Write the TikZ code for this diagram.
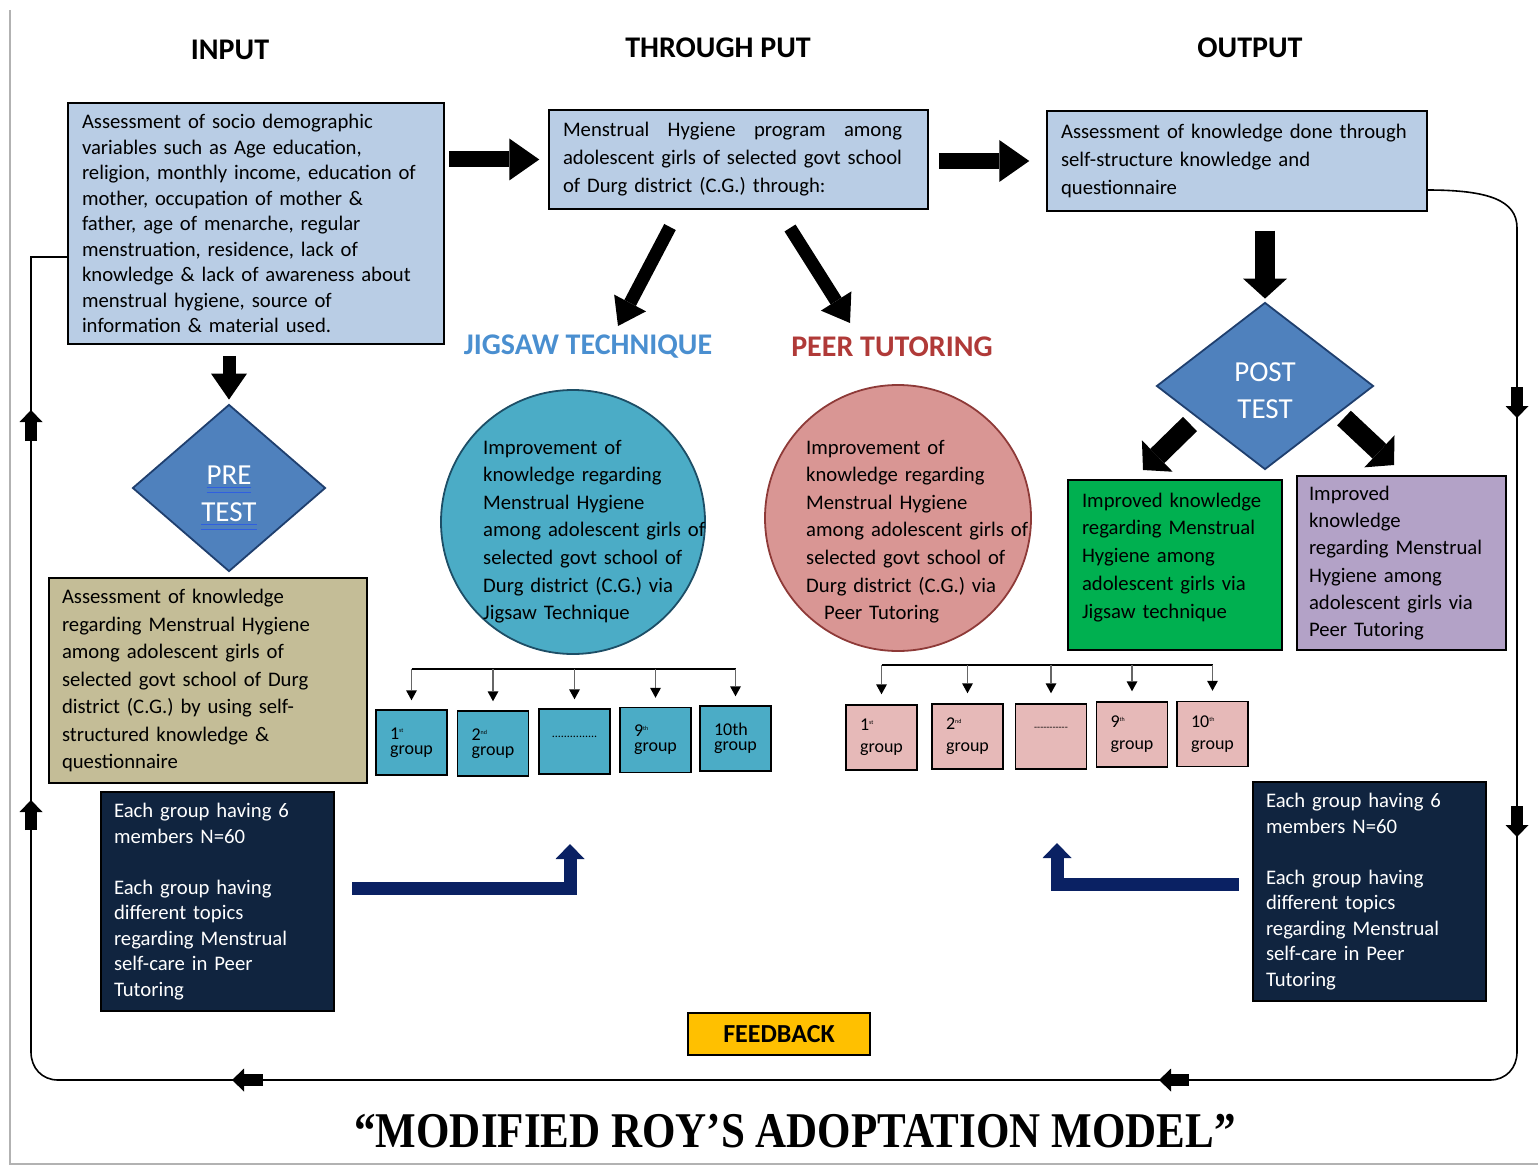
\documentclass[tikz,border=0pt]{standalone}
\usepackage{fontspec}
\setmainfont{Carlito}
\newfontfamily\titlefont{Liberation Serif}
\usepackage{graphicx}
\usetikzlibrary{shapes.geometric,arrows.meta}

\definecolor{boxblue}{HTML}{B9CDE5}
\definecolor{diafill}{HTML}{4F81BD}
\definecolor{diadraw}{HTML}{1F3F6E}
\definecolor{jigteal}{HTML}{4BACC6}
\definecolor{jigdraw}{HTML}{1D4E66}
\definecolor{peerpink}{HTML}{D99694}
\definecolor{peerdraw}{HTML}{8E3A38}
\definecolor{grppink}{HTML}{E6B9B8}
\definecolor{tanfill}{HTML}{C4BD97}
\definecolor{greenfill}{HTML}{00B050}
\definecolor{lilac}{HTML}{B3A2C7}
\definecolor{navyfill}{HTML}{10243F}
\definecolor{navyarr}{HTML}{0A2163}
\definecolor{fbyellow}{HTML}{FFC000}
\definecolor{jigtext}{HTML}{4A8FD0}
\definecolor{peertext}{HTML}{B03A38}
\definecolor{ulblue}{HTML}{2F5FE0}

\newlength{\ulwd}
\newcommand{\dblul}[1]{\settowidth{\ulwd}{#1}\leavevmode\rlap{\color{ulblue}\rule[-4pt]{\ulwd}{1.3pt}}\rlap{\color{ulblue}\rule[-9pt]{\ulwd}{1.3pt}}#1}
\newcommand{\sups}[1]{\textsuperscript{\fontsize{6}{6}\selectfont #1}}

\begin{document}
\begin{tikzpicture}[x=1pt,y=1pt,yscale=-1,
    txtbox/.style={draw=black, line width=1.5, align=left, inner xsep=14, inner ysep=0, font=\fontsize{20.7}{25.5}\selectfont},
    colhead/.style={font=\fontsize{30}{36}\selectfont\bfseries},
    testdia/.style={diamond, draw=diadraw, line width=1.8, fill=diafill, text=white, align=center, inner sep=0, font=\fontsize{29}{37}\selectfont},
    circtxt/.style={align=left, inner sep=0, text width=232, font=\fontsize{20.7}{27.6}\selectfont},
    grpbox/.style={draw=black, line width=1.5, minimum width=71, minimum height=65, inner sep=0, align=left, font=\fontsize{18}{15}\selectfont},
    navybx/.style={txtbox, fill=navyfill, text=white, text width=207, inner xsep=13, minimum height=219},
    bigarrow/.style={line width=16, -{Triangle[length=30pt,width=42pt,line width=0pt]}},
    midarrow/.style={line width=13, -{Triangle[length=26pt,width=36pt,line width=0pt]}},
    postarrow/.style={line width=20, -{Triangle[length=20pt,width=44pt,line width=0pt]}},
    smallblk/.style={line width=12, -{Triangle[length=12pt,width=23pt,line width=0pt]}},
    navyarrow/.style={draw=navyarr, line width=13, -{Triangle[length=15pt,width=29pt,line width=0pt]}},
    grparrow/.style={draw=gray!80!black, line width=1.4, -{Triangle[length=10pt,width=11pt,line width=0pt,black]}},
    barline/.style={line width=1.5, black},
    loopline/.style={line width=1.6, black}
]
\useasboundingbox (0,0) rectangle (1538,1166);

%Frame
\draw[gray!60, line width=1.5] (10,10) -- (10,1164) -- (1538,1164);

% Text Node
\node[colhead] (hin) at (230,50) {INPUT};
% Text Node
\node[colhead] (hthru) at (718,48) {THROUGH PUT};
% Text Node
\node[colhead] (hout) at (1250,48) {OUTPUT};

%Shape: Rectangle
\node[txtbox, fill=boxblue, text width=348, minimum height=241] (inbox) at (256,223.5) {Assessment of socio demographic\\ variables such as Age education,\\ religion, monthly income, education of\\ mother, occupation of mother \&\\ father, age of menarche, regular\\ menstruation, residence, lack of\\ knowledge \& lack of awareness about\\ menstrual hygiene, source of\\ information \& material used.};
%Shape: Rectangle
\node[txtbox, fill=boxblue, text width=351, minimum height=99, font=\fontsize{20.7}{28}\selectfont] (tpbox) at (738.5,159.5) {\makebox[339pt][l]{Menstrual\hfill Hygiene\hfill program\hfill among}\\ adolescent girls of selected govt school\\ of Durg district (C.G.) through:};
%Shape: Rectangle
\node[txtbox, fill=boxblue, text width=352, minimum height=100, font=\fontsize{20.7}{28}\selectfont] (outbox) at (1237,161) {Assessment of knowledge done through\\ self-structure knowledge and\\ questionnaire};

%Block Arrows
\draw[bigarrow, shorten <=4, shorten >=9] (inbox.east |- tpbox.west) -- (tpbox.west);
\draw[bigarrow, shorten <=10, shorten >=17] (tpbox.east |- outbox.west) -- (outbox.west);

%Shape: Diamond
\node[testdia, minimum width=193, minimum height=167] (pre) at (229,488) {\rule{0pt}{38pt}\dblul{PRE}\\\dblul{TEST}};
%Shape: Diamond
\node[testdia, minimum width=217, minimum height=167] (post) at (1265,386) {\rule{0pt}{29pt}POST\\TEST};

\draw[midarrow, shorten <=11, shorten >=4] (inbox.south -| pre.north) -- (pre.north);
\draw[postarrow, shorten <=19, shorten >=3] (outbox.south -| post.north) -- (post.north);

% Text Node
\node[colhead, text=jigtext] (jiglbl) at (588,347) {JIGSAW TECHNIQUE};
% Text Node
\node[colhead, text=peertext] (peerlbl) at (892,347) {PEER TUTORING};

%Straight Lines
\coordinate (tpL) at (670,227);
\coordinate (jigtip) at (618,326);
\draw[midarrow] (tpL) -- (jigtip);
\coordinate (tpR) at (790,228);
\coordinate (peertip) at (850,323);
\draw[midarrow] (tpR) -- (peertip);

%Shape: Circle
\node[circle, draw=jigdraw, line width=1.8, fill=jigteal, minimum size=264, inner sep=0] (jig) at (573,522) {};
% Text Node
\node[circtxt, anchor=base west] (jigtxt) at (483,454) {Improvement of\\ knowledge regarding\\ Menstrual Hygiene\\ among adolescent girls of\\ selected govt school of\\ Durg district (C.G.) via\\ Jigsaw Technique};
%Shape: Circle
\node[circle, draw=peerdraw, line width=1.8, fill=peerpink, minimum size=266, inner sep=0] (peer) at (898,518) {};
% Text Node
\node[circtxt, anchor=base west] (peertxt) at (806,454) {Improvement of\\ knowledge regarding\\ Menstrual Hygiene\\ among adolescent girls of\\ selected govt school of\\ Durg district (C.G.) via\\ \hspace*{18pt}Peer Tutoring};

%Shape: Rectangle
\node[txtbox, fill=tanfill, text width=292, inner xsep=13, minimum height=205, font=\fontsize{20.7}{27.5}\selectfont] (tanbox) at (208,680.5) {Assessment of knowledge\\ regarding Menstrual Hygiene\\ among adolescent girls of\\ selected govt school of Durg\\ district (C.G.) by using self-\\ structured knowledge \&\\ questionnaire};

%Shape: Rectangle
\node[txtbox, fill=greenfill, text width=186, minimum height=170, font=\fontsize{20.7}{27.75}\selectfont] (grnbox) at (1175,565) {Improved knowledge\\ regarding Menstrual\\ Hygiene among\\ adolescent girls via\\ Jigsaw technique\rule[-19pt]{0pt}{0pt}};
%Shape: Rectangle
\node[txtbox, fill=lilac, text width=185, inner xsep=12, minimum height=174, font=\fontsize{20.7}{27.2}\selectfont] (purbox) at (1401.5,563) {Improved\\ knowledge\\ regarding Menstrual\\ Hygiene among\\ adolescent girls via\\ Peer Tutoring};

\coordinate (postL) at (1190,424);
\coordinate (grntip) at (1143,470);
\draw[postarrow] (postL) -- (grntip);
\coordinate (postR) at (1344,418);
\coordinate (purtip) at (1394,465);
\draw[postarrow] (postR) -- (purtip);

%Shape: Group boxes (jigsaw)
\node[grpbox, fill=jigteal] (tg1) at (411.5,742.5) {1\sups{st}\\group};
\node[grpbox, fill=jigteal] (tg2) at (493,743.5) {2\sups{nd}\\group};
\node[grpbox, fill=jigteal] (tg3) at (574.5,741.5) {\raisebox{10pt}{\fontsize{12}{12}\selectfont ...............}};
\node[grpbox, fill=jigteal] (tg4) at (655.5,740) {9\sups{th}\\group};
\node[grpbox, fill=jigteal] (tg5) at (735.5,738.5) {10th\\group};

\coordinate (tbar) at (0,669);
\draw[barline] (tg1.north |- tbar) -- (tg5.north |- tbar);
\draw[grparrow, shorten >=9] (tg1.north |- tbar) -- (tg1.north);
\draw[grparrow, shorten >=9] (tg2.north |- tbar) -- (tg2.north);
\draw[grparrow, shorten >=9] (tg3.north |- tbar) -- (tg3.north);
\draw[grparrow, shorten >=9] (tg4.north |- tbar) -- (tg4.north);
\draw[grparrow, shorten >=9] (tg5.north |- tbar) -- (tg5.north);

%Shape: Group boxes (peer)
\node[grpbox, fill=grppink, font=\fontsize{18}{22}\selectfont] (pg1) at (881.5,737.5) {1\sups{st}\\group};
\node[grpbox, fill=grppink, font=\fontsize{18}{22}\selectfont] (pg2) at (967.5,736.5) {2\sups{nd}\\group};
\node[grpbox, fill=grppink] (pg3) at (1051,736.5) {\raisebox{15pt}{\fontsize{10}{10}\selectfont -{}-{}-{}-{}-{}-{}-{}-{}-{}-{}-}};
\node[grpbox, fill=grppink, font=\fontsize{18}{22}\selectfont] (pg4) at (1132,734.5) {9\sups{th}\\group};
\node[grpbox, fill=grppink, font=\fontsize{18}{22}\selectfont] (pg5) at (1212.5,734) {10\sups{th}\\group};

\coordinate (pbar) at (0,665);
\draw[barline] (pg1.north |- pbar) -- (pg5.north |- pbar);
\draw[grparrow, shorten >=10] (pg1.north |- pbar) -- (pg1.north);
\draw[grparrow, shorten >=10] (pg2.north |- pbar) -- (pg2.north);
\draw[grparrow, shorten >=10] (pg3.north |- pbar) -- (pg3.north);
\draw[grparrow, shorten >=10] (pg4.north |- pbar) -- (pg4.north);
\draw[grparrow, shorten >=10] (pg5.north |- pbar) -- (pg5.north);

%Shape: Rectangle
\node[navybx] (navyL) at (217.5,901.5) {Each group having 6\\ members N=60\\[25.5pt] Each group having\\ different topics\\ regarding Menstrual\\ self-care in Peer\\ Tutoring};
%Shape: Rectangle
\node[navybx] (navyR) at (1369.5,891.5) {Each group having 6\\ members N=60\\[25.5pt] Each group having\\ different topics\\ regarding Menstrual\\ self-care in Peer\\ Tutoring};

%Bent Arrows
\coordinate (navyLstart) at (352,888);
\coordinate (navyLtip) at (570,844);
\draw[navyarrow] (navyLstart) -| (navyLtip);
\coordinate (navyRstart) at (1239,884);
\coordinate (navyRtip) at (1057,843);
\draw[navyarrow] (navyRstart) -| (navyRtip);

%Shape: Rectangle
\node[draw=black, line width=1.5, fill=fbyellow, minimum width=182, minimum height=42, inner sep=0, font=\fontsize{26}{30}\selectfont\bfseries] (fb) at (779,1034) {FEEDBACK};

%Feedback loop
\coordinate (fbstart) at (1427,190);
\coordinate (fbL) at (31,257);
\coordinate (fbend) at (68,257);
\draw[loopline] (fbstart) .. controls (1488,190) and (1517,200) .. (1517,228) -- (1517,1052) .. controls (1517,1068) and (1506,1080) .. (1490,1080) -- (58,1080) .. controls (42,1080) and (31,1068) .. (31,1052) -- (fbL) -- (fbend);
\draw[smallblk] (1517,387) -- (1517,418);
\draw[smallblk] (1517,806) -- (1517,837);
\draw[smallblk] (1189,1080) -- (1159,1080);
\draw[smallblk] (263,1080) -- (232,1080);
\draw[smallblk] (31,830) -- (31,800);
\draw[smallblk] (31,441) -- (31,410);

% Text Node
\node[font=\titlefont\fontsize{50}{56}\selectfont\bfseries] (title) at (795,1131) {\scalebox{0.86}[1]{“MODIFIED ROY’S ADOPTATION MODEL”}};

\end{tikzpicture}
\end{document}
